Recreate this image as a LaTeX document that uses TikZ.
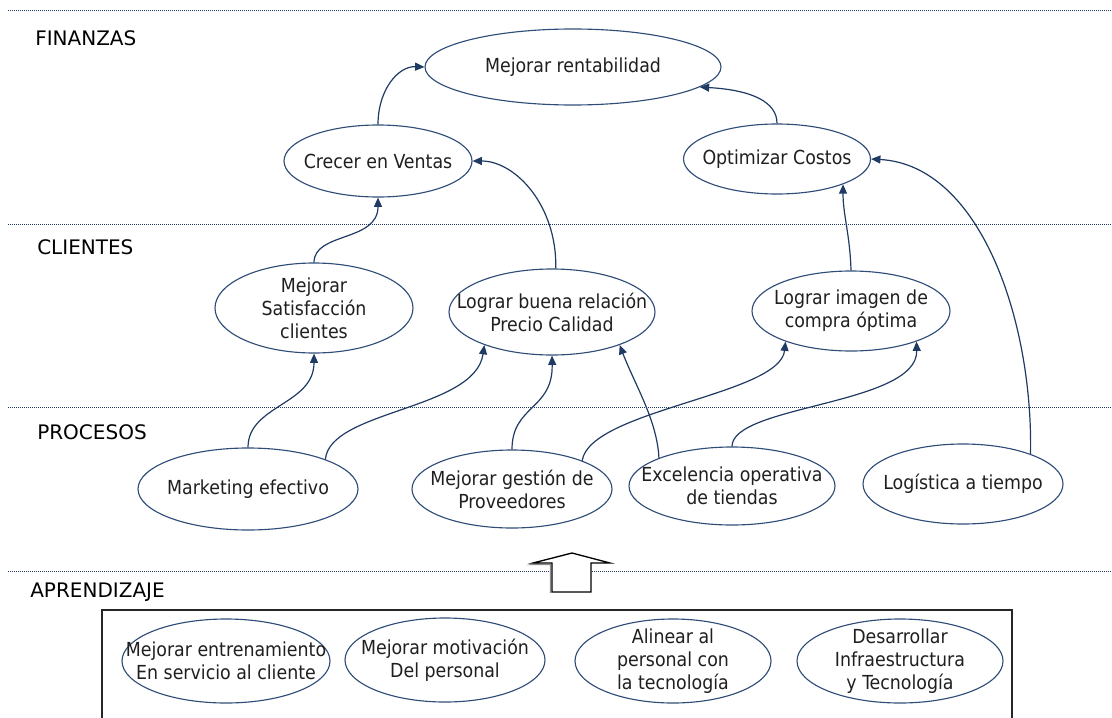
\documentclass[tikz,border=0pt]{standalone}
\usepackage{fontspec}
\newfontfamily\objfont{DejaVu Sans Condensed}
\newfontfamily\bandfont{DejaVu Sans}
\usetikzlibrary{arrows.meta,shapes.geometric}
\definecolor{navy}{HTML}{1F3A63}
\definecolor{rim}{HTML}{2F4D78}

% one objective: ellipse outline plus its centred text
% #1 name, #2 x, #3 y, #4 width, #5 height (all in px units), #6 text
\newcommand\objective[6]{%
  \node[objshape, minimum width=#4*0.75pt, minimum height=#5*0.75pt] (#1) at (#2,#3) {};
  \node[objtext] (#1-t) at (#1.center) {#6};}

\begin{document}
\begin{tikzpicture}[x=0.75pt, y=-0.75pt,
  objshape/.style={ellipse, draw=rim, line width=0.85pt, inner sep=0pt},
  objtext/.style={align=center, inner sep=0pt, text=black!88,
    font=\objfont\fontsize{14.5}{17.25}\selectfont},
  band/.style={anchor=west, inner sep=0pt, text=black,
    font=\bandfont\fontsize{15}{18}\selectfont},
  divider/.style={draw=navy, line width=0.6pt, dash pattern=on 0.6pt off 0.9pt},
  link/.style={draw=navy, line width=0.9pt, -{Triangle[length=7pt,width=6pt]}},
  frame/.style={draw=black!85, line width=0.9pt},
  bigarrow/.style={draw=black, fill=white, line width=1pt, line join=miter},
]
\useasboundingbox (0,0) rectangle (1112,717);

% perspective separators
\foreach \yy in {10,224,407,571}
  \draw[divider] (8,\yy) -- (1112,\yy);

% perspective names
\node[band] (finanzas) at (35,38) {FINANZAS};
\node[band] (clientes) at (37,247) {CLIENTES};
\node[band] (procesos) at (37,432) {PROCESOS};
\node[band] (aprendizaje) at (30,592) {APRENDIZAJE};

% finance
\objective{rent}{573}{67}{296}{76}{Mejorar rentabilidad}
\objective{ventas}{378}{161}{188}{72}{Crecer en Ventas}
\objective{costos}{777}{159}{187}{70}{Optimizar Costos}
% customers
\objective{satis}{314}{308}{198}{90}{Mejorar\\Satisfacción\\clientes}
\objective{precio}{552}{312}{206}{86}{Lograr buena relación\\Precio Calidad}
\objective{imagen}{851}{311}{198}{80}{Lograr imagen de\\compra óptima}
% processes
\objective{mkt}{248}{489}{220}{82}{Marketing efectivo}
\objective{prov}{512}{489}{200}{78}{Mejorar gestión de\\Proveedores}
\objective{exc}{732}{486}{206}{78}{Excelencia operativa\\de tiendas}
\objective{log}{963}{484}{200}{80}{Logística a tiempo}
% learning
\objective{train}{226}{661}{208}{84}{Mejorar entrenamiento\\En servicio al cliente}
\objective{motiv}{445}{660}{200}{84}{Mejorar motivación\\Del personal}
\objective{tech}{673}{661}{196}{84}{Alinear al\\personal con\\la tecnología}
\objective{infra}{900}{661}{206}{84}{Desarrollar\\Infraestructura\\y Tecnología}

% frame round the learning objectives (open at the bottom)
\draw[frame] (102,720) -- (102,610) -- (1012,610) -- (1012,720);

% block arrow from learning up to processes
\draw[draw=black!45, line width=1pt]
  (550.5,593) -- (550.5,564.5) -- (531.5,564.5) -- (571,554.5);
\draw[bigarrow] (552,592) -- (552,563) -- (533,563) -- (572,553)
  -- (610,563) -- (591,563) -- (591,592) -- cycle;

% cause and effect links
\draw[link] (ventas.north) .. controls (378,90) and (398,66) .. (rent.west);
\draw[link] (costos.north) .. controls (777,102) and (752,90) .. (rent.-9);
\draw[link] (precio.85) .. controls (557,205) and (515,161) .. (ventas.east);
\draw[link] (satis.north) .. controls (314,232) and (378,242) .. (ventas.south);
\draw[link] (imagen.north) .. controls (850,235) and (843,215) .. (costos.-21);
\draw[link] (log.24) .. controls (1033,320) and (980,165) .. (costos.east);
\draw[link] (mkt.north) .. controls (248,405) and (314,405) .. (satis.south);
\draw[link] (mkt.21) .. controls (330,410) and (475,410) .. (precio.206);
\draw[link] (prov.north) .. controls (512,405) and (553,410) .. (precio.south);
\draw[link] (prov.22) .. controls (590,410) and (780,395) .. (imagen.205);
\draw[link] (exc.159) .. controls (657,420) and (635,385) .. (precio.-26);
\draw[link] (exc.north) .. controls (732,405) and (918,405) .. (imagen.-25);
\end{tikzpicture}
\end{document}
